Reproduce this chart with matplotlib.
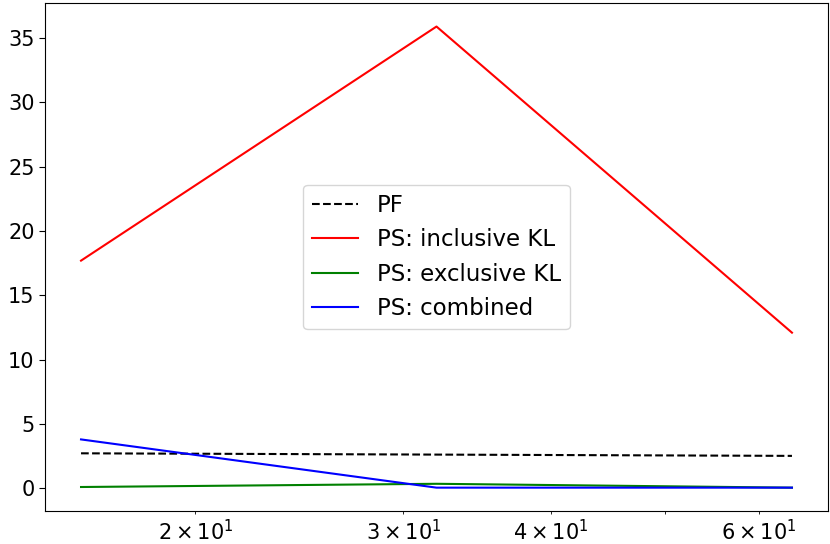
import matplotlib
matplotlib.use('Agg')
import matplotlib.pyplot as plt

sizes = [16, 32, 64]
pf = [2.72, 2.62, 2.52]
ps_inclusive = [17.7, 35.9, 12.1]
ps_exclusive = [0.1, 0.35, 0.05]
ps_combined = [3.8, 0.05, 0.05]

plt.rcParams['font.size'] = 15
plt.rcParams['xtick.major.size'] = 4.3
plt.rcParams['ytick.major.size'] = 4.3
plt.rcParams['xtick.minor.size'] = 2.5

fig = plt.figure(figsize=(8.3, 5.44), dpi=100)
ax = fig.add_axes([0.0548, 0.0612, 0.9422, 0.9324])
ax.plot(sizes, pf, 'k--', label='PF')
ax.plot(sizes, ps_inclusive, color='red', label='PS: inclusive KL')
ax.plot(sizes, ps_exclusive, color='green', label='PS: exclusive KL')
ax.plot(sizes, ps_combined, color='blue', label='PS: combined')
ax.set_xscale('log')
ax.legend(loc='center', fontsize=16.5)
fig.savefig('out.png')
